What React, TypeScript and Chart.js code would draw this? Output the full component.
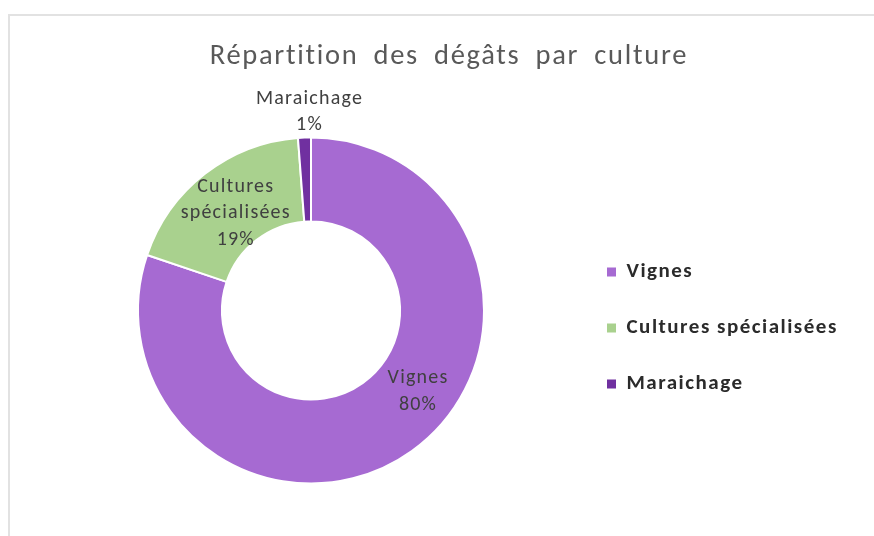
import React, { useEffect, useRef } from 'react';
import { Chart, registerables } from 'chart.js';

Chart.register(...registerables);

const TITLE = 'Répartition des dégâts par culture';
const CATEGORIES = ['Vignes', 'Cultures spécialisées', 'Maraichage'];
const VALUES = [80.2, 18.6, 1.2];
const COLORS = ['#A66AD2', '#A9D18E', '#7030A0'];

// where each slice label sits: fraction along the slice's angle, and radius as a fraction of the outer radius
const LABEL_ANGLE_FRAC = [0.44, 0.5, 0.9];
const LABEL_RADIUS_FRAC = [0.775, 0.71, 1.147];

const FONT = "Carlito, Calibri, Lato, 'Noto Sans', sans-serif";
const LEGEND_SPACING = '1.5px';
const TITLE_LETTER_SPACING = '1.7px';
const TITLE_WORD_SPACING = '7px';
const LABEL_SPACING = '1.2px';

const spacing = {
  id: 'spacing',
  afterInit(chart: any) {
    const tb = chart.titleBlock;
    if (!tb) return;
    const orig = tb.draw.bind(tb);
    tb.draw = (area: any) => {
      const ctx = chart.ctx;
      ctx.save();
      ctx.letterSpacing = TITLE_LETTER_SPACING;
      ctx.wordSpacing = TITLE_WORD_SPACING;
      orig(area);
      ctx.restore();
    };
  },
  beforeLayout(chart: any) {
    chart.ctx.letterSpacing = LEGEND_SPACING;
  },
  beforeDraw(chart: any) {
    chart.ctx.letterSpacing = LEGEND_SPACING;
  },
};

const sliceLabels = {
  id: 'sliceLabels',
  afterDatasetsDraw(chart: any) {
    const { ctx } = chart;
    const meta = chart.getDatasetMeta(0);
    const data = chart.data.datasets[0].data as number[];
    const total = data.reduce((a: number, b: number) => a + b, 0);
    ctx.save();
    ctx.letterSpacing = LABEL_SPACING;
    ctx.font = `20px ${FONT}`;
    ctx.fillStyle = '#404040';
    ctx.textAlign = 'center';
    ctx.textBaseline = 'middle';
    const lh = 26.5;
    meta.data.forEach((arc: any, i: number) => {
      const { x, y, startAngle, endAngle, outerRadius } = arc.getProps(
        ['x', 'y', 'startAngle', 'endAngle', 'outerRadius'],
        true
      );
      const a = startAngle + (endAngle - startAngle) * LABEL_ANGLE_FRAC[i];
      const r = outerRadius * LABEL_RADIUS_FRAC[i];
      const cx = x + Math.cos(a) * r;
      const cy = y + Math.sin(a) * r;
      const lines = [
        ...String(chart.data.labels[i]).split(' '),
        Math.round((data[i] / total) * 100) + '%',
      ];
      lines.forEach((t, k) => ctx.fillText(t, cx, cy + (k - (lines.length - 1) / 2) * lh));
    });
    ctx.restore();
  },
};

export default function App() {
  const ref = useRef<HTMLCanvasElement>(null);

  useEffect(() => {
    if (!ref.current) return;
    const W = 864;
    const legendFontSize = 21;
    const legendPad = 35;
    const boxW = 9;

    const m: any = document.createElement('canvas').getContext('2d')!;
    m.letterSpacing = LEGEND_SPACING;
    m.font = `bold ${legendFontSize}px ${FONT}`;
    const maxText = Math.max(...CATEGORIES.map((c) => m.measureText(c).width));
    const legendWidth = legendPad + boxW + legendFontSize / 2 + maxText + 10;
    const legendLeft = 597 - legendPad;
    const padRight = W - legendLeft - legendWidth;
    const centerX = 301;
    const padLeft = 2 * centerX - legendLeft;

    const defaultGen = (Chart as any).overrides.doughnut.plugins.legend.labels.generateLabels;

    const chart = new Chart(ref.current, {
      type: 'doughnut',
      data: {
        labels: CATEGORIES,
        datasets: [
          {
            data: VALUES,
            backgroundColor: COLORS,
            borderColor: '#ffffff',
            borderWidth: 2,
            hoverOffset: 0,
          },
        ],
      },
      options: {
        responsive: false,
        animation: false,
        cutout: '51.5%',
        layout: {
          padding: { left: padLeft, right: padRight, top: 0, bottom: 51.5 },
        },
        plugins: {
          title: {
            display: true,
            text: TITLE,
            color: '#595959',
            font: { family: FONT, size: 28.5, weight: 'normal', lineHeight: 1.2 },
            padding: { top: 24, bottom: 62.3 },
          },
          legend: {
            display: true,
            position: 'right',
            fullSize: false,
            title: {
              display: true,
              text: '',
              font: { size: 10, lineHeight: 1 },
              padding: { top: 25, bottom: 0 },
            },
            labels: {
              color: '#2b2b2b',
              font: { family: FONT, size: legendFontSize, weight: 'bold' },
              boxWidth: boxW,
              boxHeight: boxW,
              padding: legendPad,
              generateLabels: (c: any) =>
                defaultGen(c).map((l: any) => ({ ...l, strokeStyle: l.fillStyle, lineWidth: 0 })),
            },
          },
          tooltip: { enabled: false },
        },
      } as any,
      plugins: [spacing, sliceLabels],
    });
    return () => chart.destroy();
  }, []);

  return (
    <div
      style={{
        position: 'fixed',
        left: 8,
        top: 14,
        width: 866,
        height: 522,
        boxSizing: 'border-box',
        borderTop: '2px solid #e2e2e2',
        borderLeft: '2px solid #e2e2e2',
        background: '#ffffff',
      }}
    >
      <canvas ref={ref} width={864} height={520} style={{ display: 'block', width: 864, height: 520 }} />
    </div>
  );
}
